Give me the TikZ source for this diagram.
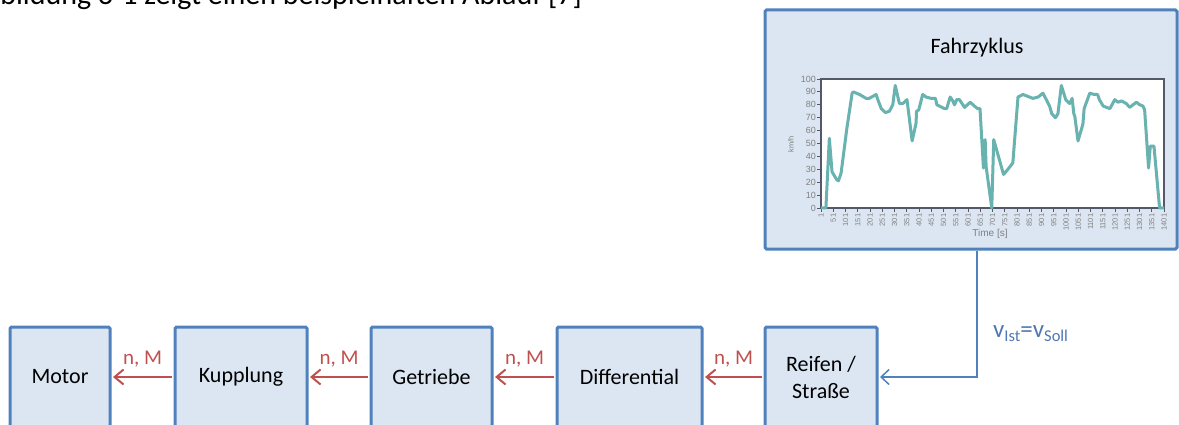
\documentclass[tikz,border=0pt]{standalone}
\usepackage{fontspec}
\setmainfont{Carlito}
\newfontfamily\chartfont{Liberation Sans}
\usetikzlibrary{arrows.meta}
\definecolor{boxblue}{RGB}{79,129,189}
\definecolor{boxfill}{RGB}{220,230,242}
\definecolor{flowred}{RGB}{192,80,77}
\definecolor{vblue}{RGB}{79,119,180}
\definecolor{curvecol}{RGB}{104,178,175}
\definecolor{framecol}{RGB}{85,88,104}
\definecolor{ticktext}{RGB}{128,128,128}

\begin{document}
\begin{tikzpicture}[x=1pt,y=-1pt,
  blockbox/.style={draw=boxblue, line width=3pt, fill=boxfill, rounded corners=1.5pt,
    inner sep=0pt, minimum height=100pt, align=center, font=\fontsize{22}{27}\selectfont},
  flow/.style={draw=flowred, line width=2pt, shorten >=1.5pt, shorten <=1.5pt,
    -{Straight Barb[length=9pt,width=15pt]}},
  flowlabel/.style={text=flowred, font=\fontsize{21}{25}\selectfont, anchor=base},
  feed/.style={draw=boxblue, line width=1.5pt, shorten >=1.5pt,
    -{Straight Barb[length=8pt,width=15pt]}},
  ylab/.style={font=\chartfont\fontsize{9}{10}\selectfont, text=ticktext, anchor=east, inner sep=1pt},
  xlab/.style={font=\chartfont\fontsize{7.5}{8}\selectfont, text=ticktext, anchor=east, rotate=90, inner sep=1pt},
]
\clip (0,0) rectangle (1179,425);

% running text above the figure
\node[anchor=base west, inner sep=0pt, font=\fontsize{30}{36}\selectfont] (intro) at (-33,5)
  {Abbildung 3-1 zeigt einen beispielhaften Ablauf [7]};

% drive-cycle panel
\node[blockbox, minimum width=412pt, minimum height=239pt] (fz) at (971,129.5) {};
\node[anchor=base, inner sep=0pt, font=\fontsize{22}{26}\selectfont] (fztitle) at (977,54) {Fahrzyklus};

% chart: plot area and axes
\fill[white] (821,79) rectangle (1164,208);
\draw[framecol, line width=1.2pt] (821,79) rectangle (1164,208);
\foreach \v [evaluate=\v as \yy using 208-1.29*\v] in {0,10,...,100} {
  \draw[framecol, line width=0.8pt] (817,\yy) -- (821,\yy);
  \node[ylab] at (817,\yy) {\v};
}
\foreach \t [evaluate=\t as \xx using 821+(\t-1)*0.245] in {1,51,...,1401} {
  \draw[framecol, line width=0.8pt] (\xx,208) -- (\xx,212);
  \node[xlab] at (\xx,212.5) {\t};
}
\node[font=\chartfont\fontsize{10}{11}\selectfont, text=ticktext] (tlab) at (990,233.5) {Time [s]};
\node[rotate=90, font=\chartfont\fontsize{7.5}{8}\selectfont, text=ticktext] (kmh) at (791,144) {km/h};

% speed profile
\begin{scope}[shift={(820.755,208)}, x=0.245pt, y=1.29pt]
\draw[curvecol, line width=3pt, line join=round] plot coordinates {
 (1,0) (21,0) (35,54) (46,28) (65,22) (72,21) (83,27) (106,61) (128,89) (133,90)
 (158,88) (185,85) (198,85) (226,88) (233,84) (247,77) (264,74) (280,75) (294,80)
 (304,95) (321,81) (335,81) (352,84) (373,52) (387,64) (389,66) (391,75) (400,76)
 (416,88) (430,86) (450,85) (468,85) (474,80) (505,77) (514,77) (528,86) (536,84)
 (546,80) (555,84) (566,84) (587,78) (610,82) (627,79) (641,77) (650,77) (664,31)
 (671,53) (675,32) (698,0) (706,53) (746,26) (764,30) (784,35) (791,52) (805,86)
 (825,88) (866,85) (887,86) (907,89) (934,79) (943,73) (958,70) (968,73) (982,95)
 (1000,84) (1010,82) (1016,81) (1026,85) (1033,73) (1037,71) (1050,52) (1070,65)
 (1075,77) (1098,89) (1116,88) (1130,88) (1137,84) (1153,79) (1180,77) (1200,84)
 (1213,82) (1227,83) (1247,81) (1261,78) (1288,82) (1302,80) (1315,79) (1322,76)
 (1338,31) (1345,48) (1360,48) (1383,0) (1401,0)};
\end{scope}

% drivetrain blocks
\node[blockbox, minimum width=100pt] (motor) at (60,377) {Motor};
\node[blockbox, minimum width=132pt] (kupplung) at (241,377) {Kupplung};
\node[blockbox, minimum width=121pt] (getriebe) at (431.5,377) {Getriebe};
\node[blockbox, minimum width=145pt] (diff) at (629.5,377) {Differential};
\node[blockbox, minimum width=112pt] (reifen) at (821,377) {Reifen /\\Straße};

% torque and speed flow
\draw[flow] (kupplung.west) -- (motor.east)
  node[flowlabel, midway, yshift=13pt] {n, M};
\draw[flow] (getriebe.west) -- (kupplung.east)
  node[flowlabel, midway, yshift=13pt] {n, M};
\draw[flow] (diff.west) -- (getriebe.east)
  node[flowlabel, midway, yshift=13pt] {n, M};
\draw[flow] (reifen.west) -- (diff.east)
  node[flowlabel, midway, yshift=13pt] {n, M};

% speed demand from the drive cycle
\draw[feed] ([xshift=6pt]fz.south) |- (reifen.east);
\node[anchor=base west, inner sep=0pt, text=vblue, font=\fontsize{25}{28}\selectfont] (vlab) at (993,337)
  {v\raisebox{-4pt}{\fontsize{16.5}{18}\selectfont Ist}=v\raisebox{-4pt}{\fontsize{16.5}{18}\selectfont Soll}};
\end{tikzpicture}
\end{document}
